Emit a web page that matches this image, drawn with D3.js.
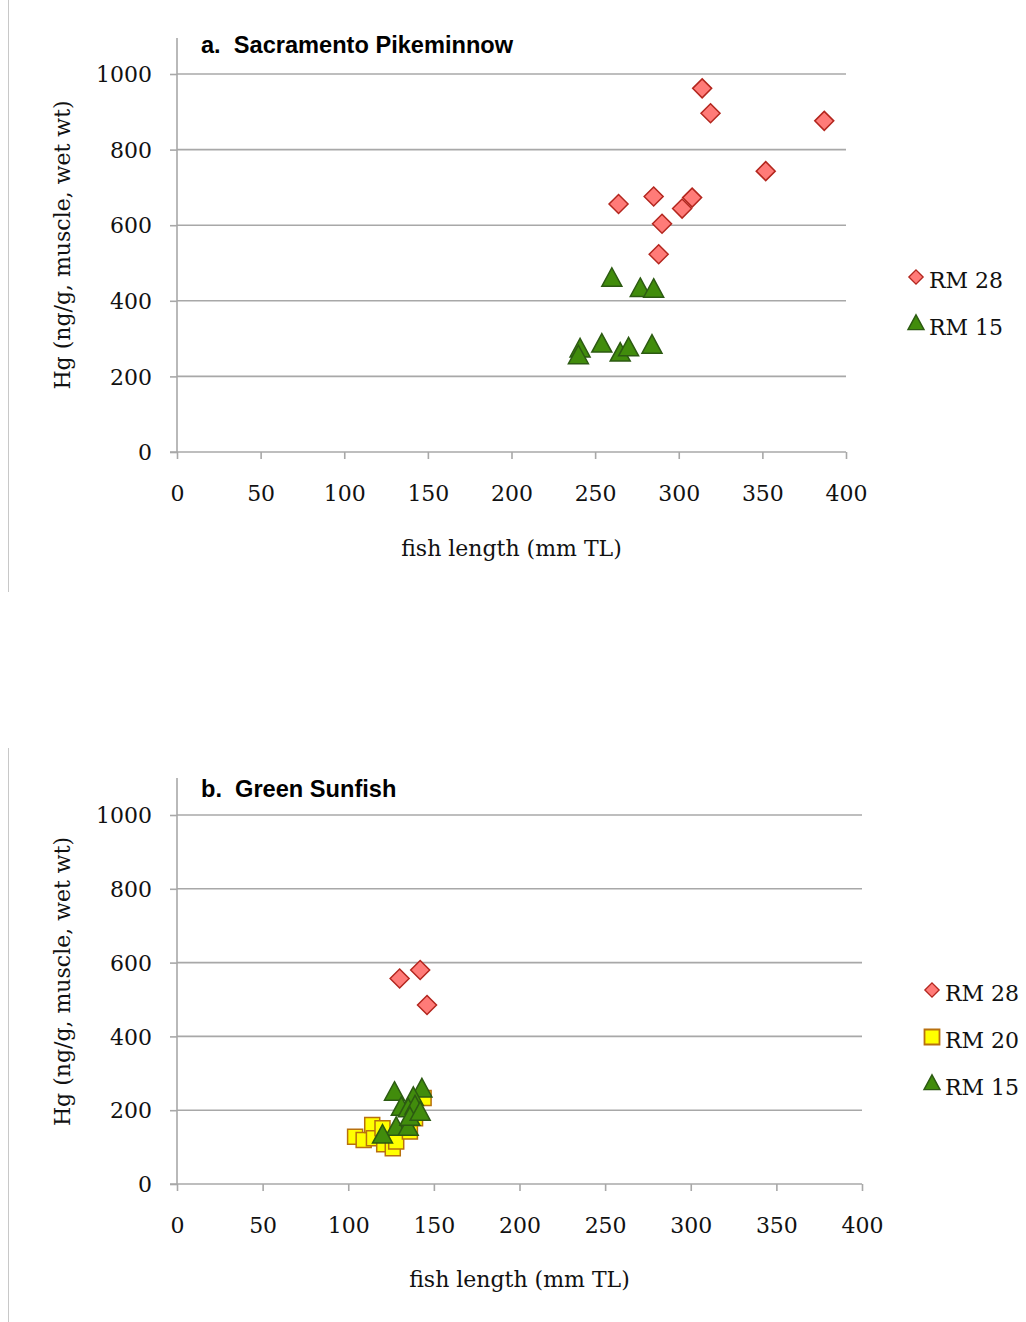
<!DOCTYPE html>
<html><head><meta charset="utf-8">
<script src="https://cdn.jsdelivr.net/npm/d3@7"></script>
<style>body{margin:0;background:#fff}svg{display:block}</style>
</head><body>
<svg id="c" width="1026" height="1322"></svg>
<script>
// ---- data ----
const xTicks = [0,50,100,150,200,250,300,350,400];
const yTicks = [0,200,400,600,800,1000];

const pikeRM28 = [[314,962],[319,896],[387,876],[352,743],[264,656],[285,676],[308,673],[302,644],[290,604],[288,523]];
const pikeRM15 = [[260,457],[277,430],[285,428],[241,270],[240,252],[254,283],[265,259],[270,273],[284,280]];

const sunRM28 = [[130,557],[142,580],[146,485]];
const sunRM20 = [[104,128],[109,119],[114,160],[115,124],[120,151],[121,108],[126,97],[128,115],[136,142],[139,178],[144,233]];
const sunRM15 = [[127,246],[143,255],[138,232],[131,205],[135,201],[139,209],[128,151],[135,151],[136,178],[120,130],[142,192]];

const styles = {
  "RM 28": {shape:"diamond", fill:"#ff7b78", stroke:"#b3261e"},
  "RM 20": {shape:"square",  fill:"#ffff00", stroke:"#b8700f"},
  "RM 15": {shape:"triangle",fill:"#418c0c", stroke:"#2c5a12"}
};

const svg = d3.select("#c");
const serif = "'DejaVu Serif', serif";
const fs = 22;

function shapePath(shape){
  if(shape==="diamond") return "M0,-9.5L9.5,0L0,9.5L-9.5,0Z";
  if(shape==="square") return "M-7.5,-7.5H7.5V7.5H-7.5Z";
  return "M0,-11.5L10,7L-10,7Z";
}

function panel(cfg){
  const g = svg.append("g");
  const x = d3.scaleLinear().domain([0,400]).range([cfg.x0,cfg.x1]);
  const y = d3.scaleLinear().domain([0,1000]).range([cfg.y0,cfg.y1]);

  // left frame line
  g.append("line").attr("x1",8.5).attr("x2",8.5).attr("y1",cfg.frameTop).attr("y2",cfg.frameBot)
    .attr("stroke","#c8c8c8").attr("stroke-width",1);

  // gridlines
  g.append("g").selectAll("line").data(yTicks.filter(d=>d>0)).join("line")
    .attr("x1",cfg.x0).attr("x2",cfg.x1).attr("y1",d=>y(d)).attr("y2",d=>y(d))
    .attr("stroke","#a8a8a8").attr("stroke-width",1.6);

  // y axis
  const ya = g.append("g").attr("transform",`translate(${cfg.x0},0)`)
    .call(d3.axisLeft(y).tickValues(yTicks).tickFormat(d3.format("d")).tickSize(7).tickPadding(18).tickSizeOuter(0));
  ya.select(".domain").attr("stroke","#a8a8a8").attr("stroke-width",1.6)
    .attr("d",`M0,${cfg.axisTop}V${cfg.y0}`);
  ya.selectAll(".tick line").attr("stroke","#a8a8a8").attr("stroke-width",1.6);
  ya.selectAll(".tick text").attr("font-family",serif).attr("font-size",fs).attr("fill","#111").attr("dy","0.35em");

  // x axis
  const xa = g.append("g").attr("transform",`translate(0,${cfg.y0})`)
    .call(d3.axisBottom(x).tickValues(xTicks).tickFormat(d3.format("d")).tickSize(7).tickPadding(26).tickSizeOuter(0));
  xa.select(".domain").attr("stroke","#a8a8a8").attr("stroke-width",1.6)
    .attr("d",`M${cfg.x0-7},0H${cfg.x1}`);
  xa.selectAll(".tick line").attr("stroke","#a8a8a8").attr("stroke-width",1.6);
  xa.selectAll(".tick text").attr("font-family",serif).attr("font-size",fs).attr("fill","#111");

  // titles
  g.append("text").attr("x",cfg.x0+24).attr("y",cfg.titleY).text(cfg.title)
    .attr("font-family","'Liberation Sans', Arial, sans-serif").attr("font-weight","bold")
    .attr("font-size",23.6).attr("fill","#000").style("white-space","pre");
  g.append("text").attr("x",(cfg.x0+cfg.x1)/2).attr("y",cfg.xTitleY).attr("text-anchor","middle")
    .text("fish length (mm TL)").attr("font-family",serif).attr("font-size",fs).attr("fill","#111");
  g.append("text").attr("transform",`translate(70,${(cfg.y0+cfg.y1)/2 - 18}) rotate(-90)`)
    .attr("text-anchor","middle").text("Hg (ng/g, muscle, wet wt)")
    .attr("font-family",serif).attr("font-size",fs).attr("fill","#111");

  // points
  cfg.series.forEach(s=>{
    const st = styles[s.name];
    g.append("g").selectAll("path").data(s.data).join("path")
      .attr("d",shapePath(st.shape))
      .attr("transform",d=>`translate(${x(d[0])},${y(d[1])})`)
      .attr("fill",st.fill).attr("stroke",st.stroke).attr("stroke-width",1.5);
  });

  // legend
  cfg.series.forEach((s,i)=>{
    const st = styles[s.name];
    const ly = cfg.legY + i*47;
    g.append("path").attr("d",shapePath(st.shape))
      .attr("transform",`translate(${cfg.legX},${ly}) scale(${st.shape==="diamond"?0.75:(st.shape==="square"?1:0.8)})`)
      .attr("fill",st.fill).attr("stroke",st.stroke).attr("stroke-width",1.8);
    g.append("text").attr("x",cfg.legX+13).attr("y",ly+11).text(s.name)
      .attr("font-family",serif).attr("font-size",fs).attr("fill","#111");
  });
}

panel({x0:177,x1:846,y0:452,y1:74,axisTop:38,frameTop:0,frameBot:592,
  title:"a.  Sacramento Pikeminnow", titleY:53, xTitleY:556,
  legX:916, legY:277,
  series:[{name:"RM 28",data:pikeRM28},{name:"RM 15",data:pikeRM15}]});

panel({x0:177,x1:862,y0:1184,y1:815,axisTop:778,frameTop:748,frameBot:1322,
  title:"b.  Green Sunfish", titleY:797, xTitleY:1287,
  legX:932, legY:990,
  series:[{name:"RM 28",data:sunRM28},{name:"RM 20",data:sunRM20},{name:"RM 15",data:sunRM15}]});
</script>
</body></html>
